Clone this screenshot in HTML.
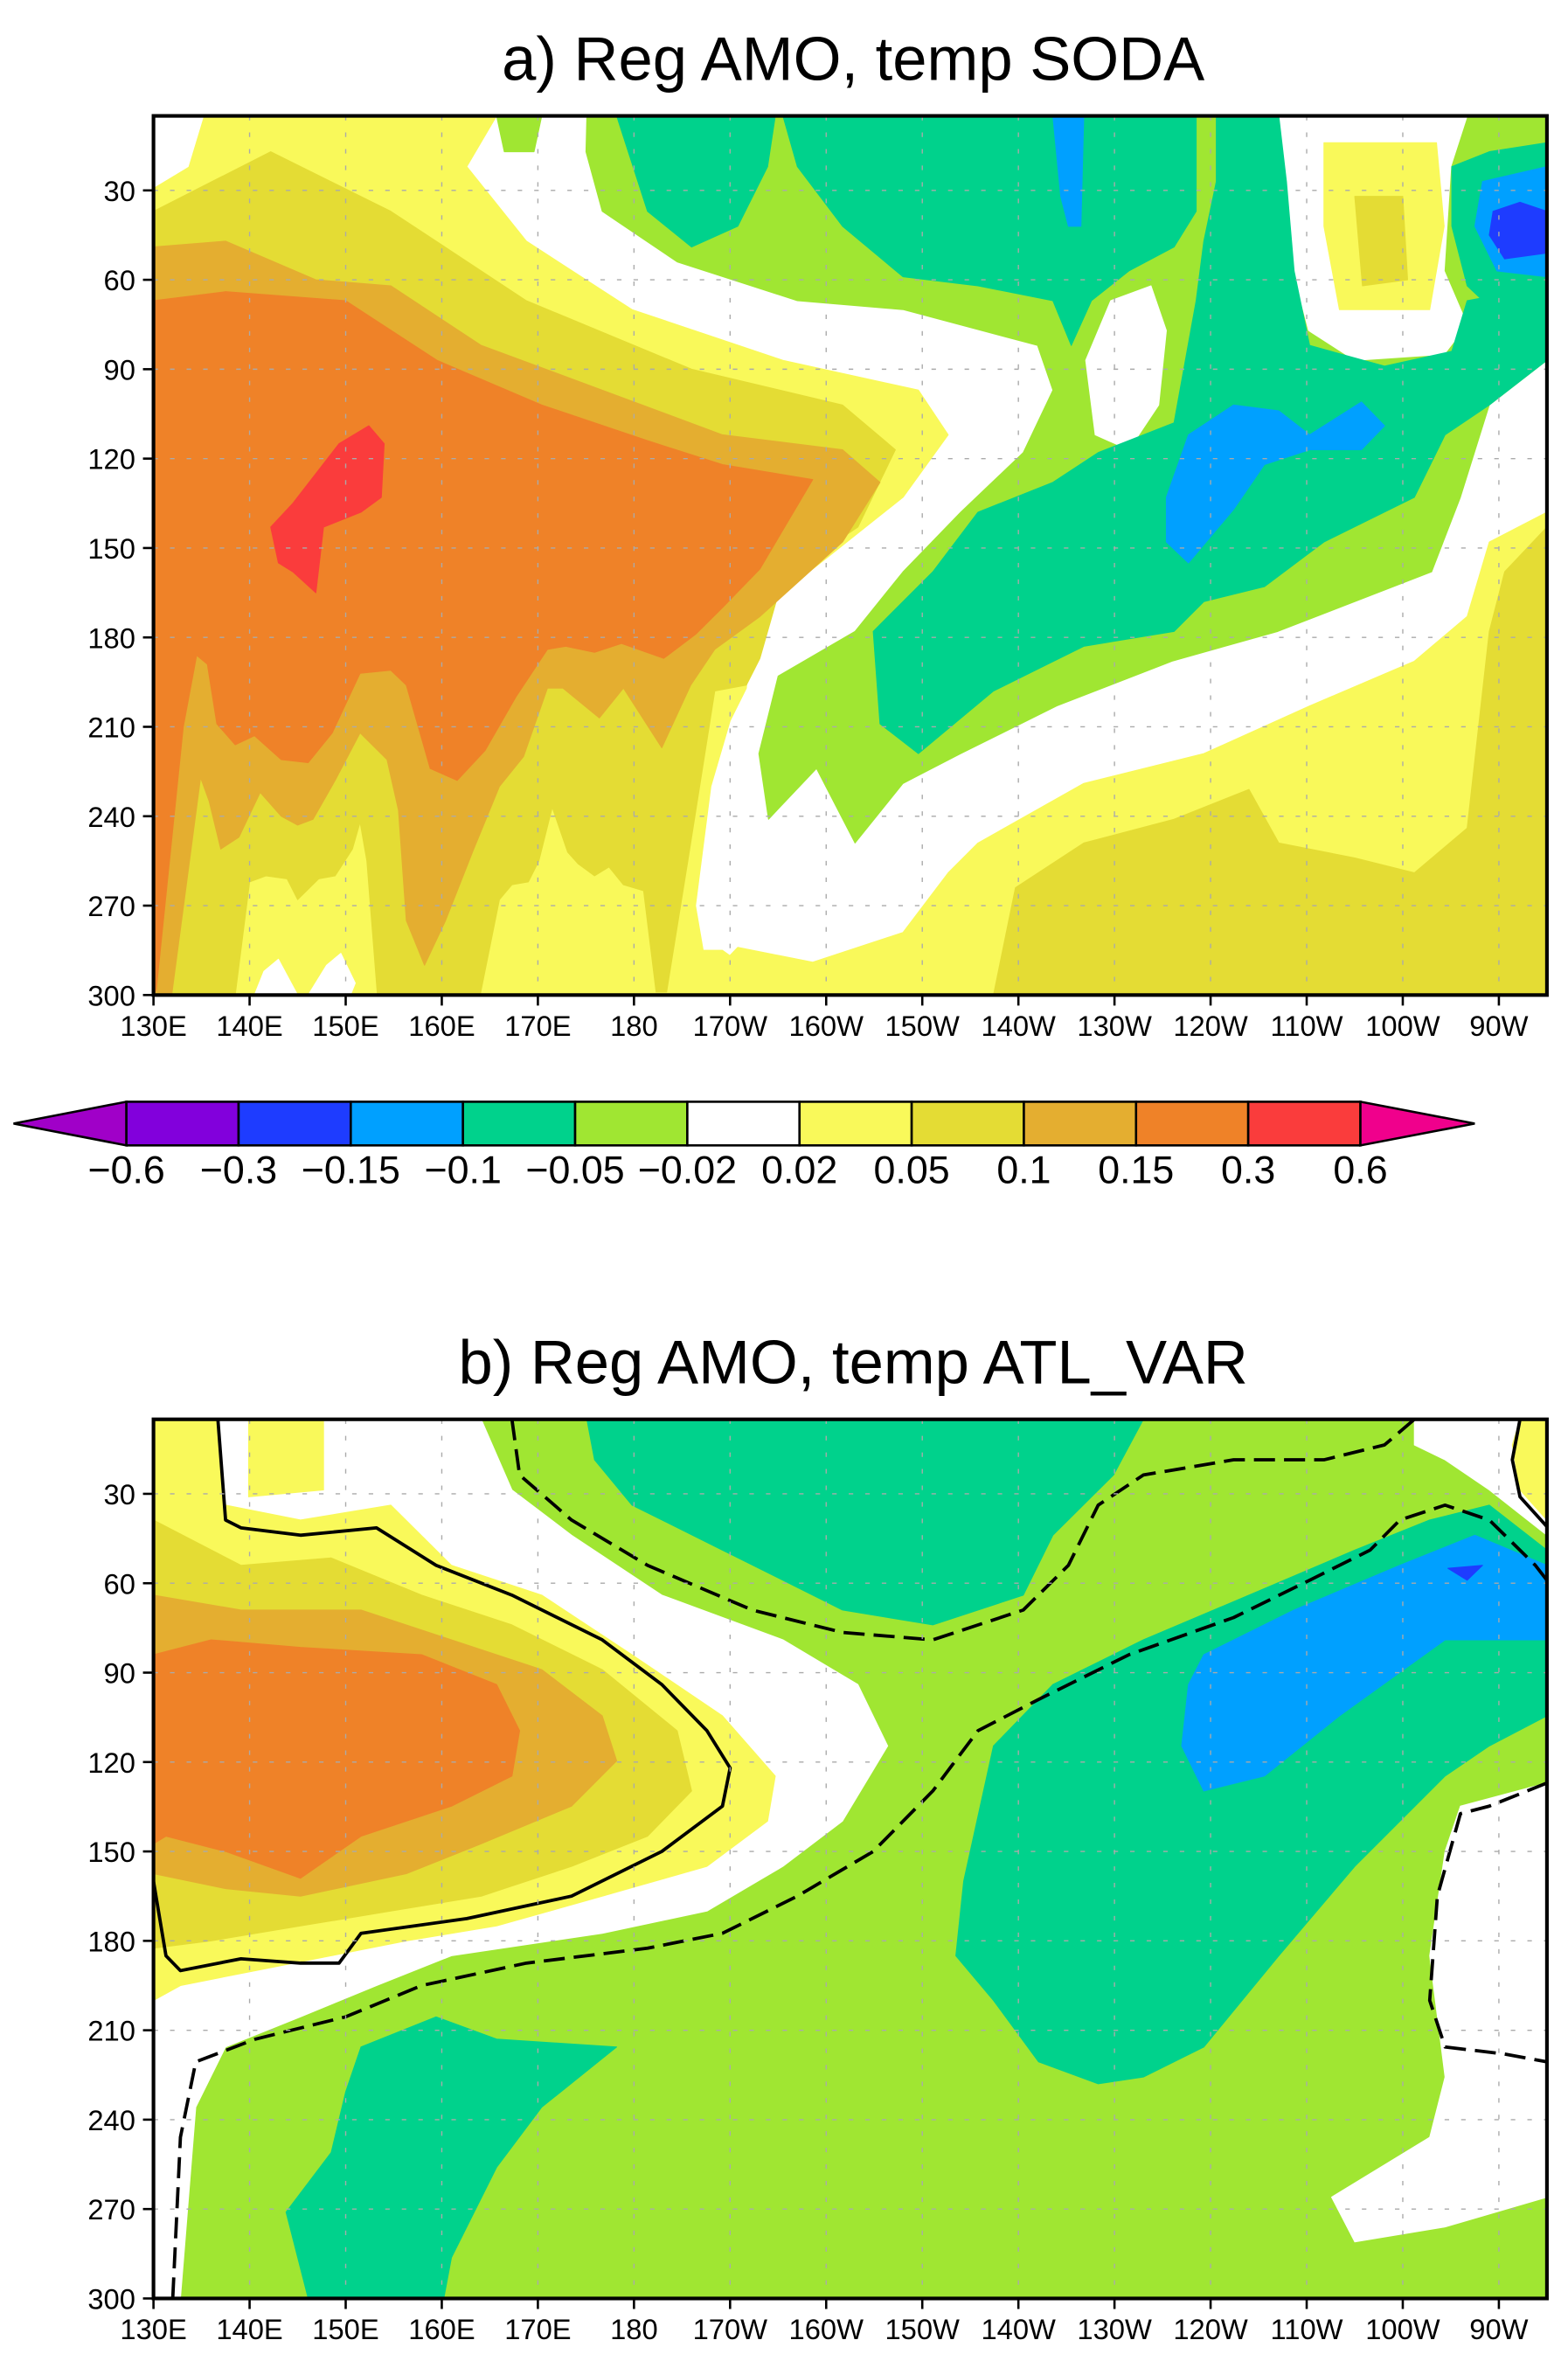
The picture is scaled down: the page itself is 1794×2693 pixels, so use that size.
<!DOCTYPE html>
<html><head><meta charset="utf-8"><style>
html,body{margin:0;padding:0;background:#fff}
svg{display:block}
text{font-family:"Liberation Sans",sans-serif;fill:#000}
</style></head><body>
<svg id="fig" width="1794" height="2693" viewBox="0 0 1042 1564" preserveAspectRatio="none" xmlns="http://www.w3.org/2000/svg">
<text x="567" y="53" font-size="41" text-anchor="middle">a) Reg AMO, temp SODA</text>
<text x="567" y="919" font-size="41" text-anchor="middle">b) Reg AMO, temp ATL_VAR</text>
<g id="pa"></g>
<g id="pb"></g>
<g id="cb"></g>
</svg>
<script>
const NS="http://www.w3.org/2000/svg";
const lonTicks=[130,140,150,160,170,180,190,200,210,220,230,240,250,260,270];
const lonLabels=["130E","140E","150E","160E","170E","180","170W","160W","150W","140W","130W","120W","110W","100W","90W"];
const depthTicks=[30,60,90,120,150,180,210,240,270,300];
const levels=["−0.6","−0.3","−0.15","−0.1","−0.05","−0.02","0.02","0.05","0.1","0.15","0.3","0.6"];
const cbColors=["#8200dc","#1e3cff","#00a0ff","#00d28c","#a0e632","#ffffff","#f9f95a","#e4dc34","#e4ae30","#ef8228","#fa3c3c"];
const C={w:"#ffffff",y:"#f9f95a",dy:"#e4dc34",oy:"#e4ae30",o:"#ef8228",r:"#fa3c3c",g:"#a0e632",t:"#00d28c",lb:"#00a0ff",b:"#1e3cff"};
// contour polygons in [lon (deg E), depth (m)]
const aWhiteTL=[[130,5],[135.2,5],[133.6,22],[130,29]];
const aGreen=[[175.1,5],[275,5],[275,87],[269,102],[266,133],[263,158],[247,178],[236,188],[224,203],[214,219],[208,229],[203,249],[199,224],[194,241],[193,219],[195,193],[203,178],[208,158],[214,138],[220.5,118],[223.6,97],[222,82],[208,70],[197,67],[184.5,54],[176.7,37],[175,17]];
const aGreenBlob=[[165.7,5],[170.4,5],[169.6,17],[166.5,17]];
const aWhiteOval=[[228,112],[227,87],[229.6,67],[233.8,62],[235.4,77],[234.6,102],[231.5,117]];
const aWhiteTR=[[247,5],[266.7,5],[265,22],[264.3,57],[266.7,75],[264.3,85],[255,87],[250.2,77],[248.6,57],[247.8,27]];
const aYellowTR=[[251.8,14],[263.5,14],[264.3,42],[262.8,70],[253.4,70],[251.8,42]];
const aDYellowTR=[[255,32],[260,32],[260.5,60],[255.8,62]];
const aTeal1=[[178.2,5],[194.7,5],[193.9,22],[190.8,42],[186,49],[181.4,37]];
const aTeal2=[[195.5,5],[238.5,5],[238.5,37],[236.2,49],[231.5,57],[227.6,67],[225.5,82],[223.6,67],[215.8,62],[208,59],[201.7,42],[197,22]];
const aTeal3=[[240.6,5],[247.1,5],[247.9,27],[248.7,57],[250.3,82],[258.1,89],[265.1,84],[266.7,67],[275,62],[275,87],[269,102],[264.4,112],[261.2,133],[251.8,148],[245.6,163],[239.3,168],[236.2,178],[226.8,183],[217.4,198],[209.6,219],[205.6,209],[204.9,178],[211.1,158],[215.8,138],[223.6,128],[228.3,118],[236.2,108],[238.5,67],[239.3,47],[240.6,27]];
const aTealTR=[[265.1,22],[269,17],[275,14],[275,67],[269,69],[266.7,62],[265.1,42]];
const aLBlueTR=[[268.3,27],[275,22],[275,59],[269.8,57],[267.5,42]];
const aBlueTR=[[269.4,37],[272.2,34],[275,37],[275,51],[270.6,53],[269,45]];
const aLBlueTop=[[223.6,5],[226.8,5],[226.5,42],[225.2,42],[224.4,32]];
const aLBlueMid=[[235.4,133],[237.7,112],[242.4,102],[247.1,104],[250.3,112],[255.7,101],[258.1,109],[255.7,117],[250.3,117],[245.6,122],[242.4,137],[237.7,155],[235.4,148]];
const aYellowBR=[[186,300],[190.8,284],[198.6,289],[208,279],[212.7,259],[215.8,249],[226.8,229],[239.3,219],[250.3,203],[261.2,188],[266.7,173],[269,148],[275,138],[275,300]];
const aDYellowBR=[[217.4,300],[219.7,264],[226.8,249],[236.2,241],[244,231],[247.1,249],[255,254],[261.2,259],[266.7,244],[269,178],[270.6,158],[275,143],[275,300]];
const aYellowL=[[130,5],[165.7,5],[162.6,22],[168.8,47],[179.8,70],[195.5,87],[209.6,97],[212.7,112],[208,133],[200.2,153],[192.3,173],[191.7,197],[190,208],[188,230],[186.4,270],[187.2,285],[189.2,285],[193.1,294],[193.1,300],[130,300]];
const aWhiteBits1=[[140.5,300],[141.5,292],[143,288],[145,300]];
const aWhiteBits2=[[146.1,300],[148,290],[149.5,286],[151,296],[150.5,300]];
const aDYellowL=[[130,37],[142.2,17],[154.7,37],[168.8,67],[186,90],[201.7,102],[207.2,117],[203.3,143],[195.5,160],[193.1,187],[191.7,196],[188.4,198],[185.6,255],[183.4,299],[182.3,299],[181,265],[178.9,263],[177.4,257],[175.9,260],[174.2,256],[173.1,252],[171.5,237],[170.1,255],[169,262],[167.3,263],[166,268],[164,300],[153.3,300],[152.2,255],[151.5,242],[150.7,251],[148.9,260],[147.2,261],[145,268],[143.9,261],[141.7,260],[140,262],[138.5,300],[130,300]];
const aOYellowL=[[130,49],[137.5,47],[146.9,60],[154.7,62],[164.1,82],[176.7,97],[189.2,112],[201.7,117],[205.6,128],[201.7,148],[193.1,173],[188.4,184],[185.9,196],[182.9,217],[178.9,197],[176.4,207],[172.6,197],[171,197],[168.5,220],[166,230],[163.2,252],[160.4,275],[158.2,290],[156.3,275],[155.5,238],[154.3,221],[151.5,212],[148.9,228],[146.6,241],[145,243],[143.3,240],[141.1,232],[138.9,247],[137,251],[135.8,235],[134.9,227],[131.9,300],[130,300]];
const aOrangeL=[[130,67],[137.5,64],[150,67],[159.5,87],[170.4,102],[181.4,114],[189.2,122],[198.6,127],[193.1,157],[189.2,170],[186.4,179],[183.1,187],[178.7,182],[175.9,185],[172.9,183],[171,184],[167.7,200],[164.5,218],[161.6,228],[158.8,224],[156.3,196],[154.7,191],[151.5,192],[148.6,212],[146.1,222],[143.3,221],[140.5,213],[138.5,216],[136.6,209],[135.6,189],[134.5,186],[133.1,210],[130.3,298],[130,300]];
const aRed=[[142.2,143],[144.5,135],[149.3,115],[152.4,109],[154,115],[153.7,133],[151.6,138],[147.7,143],[146.9,165],[144.5,158],[143,155]];
// panel b
const bWhiteL=[[147.7,5],[164.1,5],[167.3,28.7],[173.5,43.9],[182.9,64],[195.5,79],[203.3,94],[206.4,114.6],[201.7,139.8],[195.5,155],[187.6,170],[176.7,177.5],[161,185],[153.2,195],[145.3,205.5],[137.5,215.6],[134.4,235.8],[132.8,300],[130,300],[130,5]];
const bWhiteTR=[[261.2,5],[275,5],[275,43.9],[269,28.7],[264.4,18.6],[261.2,13.6]];
const bWhiteR=[[266,134.8],[275,127],[275,266],[264.4,276],[255,281],[252.6,266],[262.8,245.9],[264.4,225.7],[262.8,185],[264.4,150]];
const bTeal1=[[175.1,5],[233,5],[229.9,23.7],[223.6,43.9],[220.5,64],[211.1,74],[201.7,69],[189.2,48.9],[179.8,33.8],[175.9,18.6]];
const bTeal2=[[214.3,160],[217.4,114.6],[223.6,94],[233,79],[244,64],[255,48.9],[262.8,38.8],[269,33.8],[275,48.9],[275,104.5],[269,114.6],[264.4,124.7],[255,155],[247.1,185],[239.3,215.6],[233,225.7],[228.3,228],[222.1,220.6],[217.4,200],[213.5,185]];
const bTeal3=[[151.6,215.6],[159.4,205.5],[165.7,213],[178.2,215.6],[170.4,235.8],[165.7,256],[161,286.3],[160.2,300],[146.1,300],[143.8,271],[148.5,251],[150,230.7]];
const bLBlue=[[239.3,84],[248.7,69],[259.7,54],[267.5,43.9],[275,54],[275,79],[264.4,79],[253.4,104.5],[245.6,124.7],[239.3,129.7],[237,114.6],[237.7,94]];
const bBlue=[[264.7,55],[268.3,54],[266.7,59]];
const bYellow=[[130,5],[136.7,5],[137.5,33.8],[145.3,38.8],[154.7,33.8],[161,54],[170.4,64],[179.8,84],[189.2,104.5],[194.7,124.7],[193.9,139.8],[187.6,155],[176.7,165],[165.7,175],[156.3,180],[148.5,185],[140.6,190],[132.8,195],[130,200]];
const bYellowStrip=[[139.9,5],[147.7,5],[147.7,28.7],[139.9,31]];
const bDYellow=[[130,38.8],[139.1,54],[148.5,51.5],[157.9,64],[167.3,74],[176.7,89],[184.5,109.5],[186,129.7],[181.4,144.9],[173.5,155],[164.1,165],[154.7,170],[145.3,175],[136,180],[130,182.5]];
const bOYellow=[[130,64],[139.1,69],[151.6,69],[161,79],[170.4,89],[176.7,104.5],[178.2,119.6],[173.5,134.8],[164.1,147.4],[156.3,157.5],[145.3,165],[137.5,162.5],[130,157.5]];
const bOrange=[[130,84],[136,79],[145.3,81.5],[157.9,84],[165.7,94],[168.1,109.5],[167.3,124.7],[161,134.8],[151.6,144.9],[145.3,159],[137.5,150],[131.3,144.9],[130,147.4]];
const bYellowTR=[[272.2,5],[275,5],[275,38.8],[272.2,28.7],[271.4,13.6]];
const bSolid1=[[136.7,5],[137.5,38.8],[139.1,41.4],[145.3,43.9],[153.2,41.4],[159.4,54],[167.3,64],[176.7,79],[182.9,94],[187.6,109.5],[190,122],[189.2,134.8],[182.9,150],[173.5,165],[162.6,172.5],[151.6,177.5],[149.3,187.5],[145.3,187.5],[139.1,186],[132.8,190],[131.3,185],[130,160]];
const bSolid2=[[272.2,5],[271.4,18.6],[272.2,31],[275,41]];
const bDash1=[[132,300],[132.8,245.9],[134.4,220.6],[140.6,213],[150,205.5],[157.9,195],[168.8,187.5],[181.4,182.5],[189.2,177.5],[197,165],[204.9,150],[211.1,129.7],[215.8,109.5],[222.1,99],[231.5,84],[242.4,71.5],[250.3,59],[256.6,48.9],[259.7,38.8],[264.4,33.8],[269,38.8],[273.8,54],[275,59]];
const bDash2=[[167.3,5],[168.1,23.7],[173.5,38.8],[181.4,54],[192.3,69],[201.7,76.5],[211.1,79],[220.5,69],[225.2,54],[228.3,33.8],[233,23.7],[242.4,18.6],[251.8,18.6],[258.1,13.6],[261.2,5]];
const bDash3=[[275,127],[269,134.8],[266,137.3],[263.6,165],[262.8,200],[264.4,215.6],[270.6,218],[275,220.6]];

function mk(tag,attrs,parent){const e=document.createElementNS(NS,tag);for(const k in attrs)e.setAttribute(k,attrs[k]);parent.appendChild(e);return e;}
function makePanel(g,top,layers,lines,clipId){
  const L=102,R=1028,T=top,B=top+(300-5)*1.98;
  const x=lon=>L+(lon-130)*(R-L)/145;
  const y=d=>T+(d-5)*(B-T)/295;
  const defs=mk('defs',{},g);const cp=mk('clipPath',{id:clipId},defs);mk('rect',{x:L,y:T,width:R-L,height:B-T},cp);
  const body=mk('g',{'clip-path':`url(#${clipId})`},g);
  const bg=mk('rect',{x:L,y:T,width:R-L,height:B-T,fill:layers.bg},body);
  
  
  layers.list.forEach(([name,pts,col])=>{
    const p=mk('polygon',{points:pts.map(q=>x(q[0]).toFixed(1)+','+y(q[1]).toFixed(1)).join(' '),fill:col,stroke:col,'stroke-width':0.6,'stroke-linejoin':'round'},body);
    
    
  });
  lines.forEach(([name,pts,dash])=>{
    const p=mk('polyline',{points:pts.map(q=>x(q[0]).toFixed(1)+','+y(q[1]).toFixed(1)).join(' '),fill:'none',stroke:'#000','stroke-width':2.2,'stroke-linejoin':'round','stroke-dasharray':dash?'14 6':'none'},body);
    
    
  });
  lonTicks.forEach(v=>{if(v>130)mk('line',{x1:x(v),x2:x(v),y1:T,y2:B,stroke:'#aaa','stroke-width':0.8,'stroke-dasharray':'3 8'},g);});
  depthTicks.forEach(v=>{if(v<300)mk('line',{x1:L,x2:R,y1:y(v),y2:y(v),stroke:'#aaa','stroke-width':0.8,'stroke-dasharray':'3 8'},g);});
  const fr=mk('rect',{x:L,y:T,width:R-L,height:B-T,fill:'none',stroke:'#000','stroke-width':2.4},g);
  
  
  lonTicks.forEach((v,i)=>{
    mk('line',{x1:x(v),x2:x(v),y1:B,y2:B+7,stroke:'#000','stroke-width':1.5},g);
    const t=mk('text',{x:x(v),y:B+27,'font-size':19,'text-anchor':'middle'},g);t.textContent=lonLabels[i];
    
    
  });
  depthTicks.forEach(v=>{
    mk('line',{x1:L-7,x2:L,y1:y(v),y2:y(v),stroke:'#000','stroke-width':1.5},g);
    const t=mk('text',{x:L-12,y:y(v)+7,'font-size':19,'text-anchor':'end'},g);t.textContent=v;
    
    
  });
}
makePanel(document.getElementById('pa'),77,{bg:C.w,list:[
 ['green-region',aGreen,C.g],['green-blob',aGreenBlob,C.g],['white-oval',aWhiteOval,C.w],['white-top-right',aWhiteTR,C.w],
 ['yellow-top-right',aYellowTR,C.y],['darkyellow-top-right',aDYellowTR,C.dy],
 ['teal-1',aTeal1,C.t],['teal-2',aTeal2,C.t],['teal-3',aTeal3,C.t],['teal-top-right',aTealTR,C.t],
 ['lightblue-top-right',aLBlueTR,C.lb],['blue-top-right',aBlueTR,C.b],['lightblue-top',aLBlueTop,C.lb],['lightblue-mid',aLBlueMid,C.lb],
 ['yellow-bottom-right',aYellowBR,C.y],['darkyellow-bottom-right',aDYellowBR,C.dy],
 ['yellow-left',aYellowL,C.y],['white-top-left',aWhiteTL,C.w],['white-bits-1',aWhiteBits1,C.w],['white-bits-2',aWhiteBits2,C.w],
 ['darkyellow-left',aDYellowL,C.dy],['orangeyellow-left',aOYellowL,C.oy],['orange-left',aOrangeL,C.o],['red-core',aRed,C.r]
]},[],'clipA');
makePanel(document.getElementById('pb'),943,{bg:C.g,list:[
 ['white-left',bWhiteL,C.w],['white-top-right',bWhiteTR,C.w],['white-right',bWhiteR,C.w],
 ['teal-top',bTeal1,C.t],['teal-right',bTeal2,C.t],['teal-bottom-left',bTeal3,C.t],['lightblue-right',bLBlue,C.lb],['blue-spot',bBlue,C.b],
 ['yellow-left',bYellow,C.y],['yellow-strip',bYellowStrip,C.y],['darkyellow-left',bDYellow,C.dy],['orangeyellow-left',bOYellow,C.oy],['orange-left',bOrange,C.o],['yellow-top-right',bYellowTR,C.y]
]},[['contour-solid',bSolid1,false],['contour-solid-tr',bSolid2,false],['contour-dashed-1',bDash1,true],['contour-dashed-2',bDash2,true],['contour-dashed-3',bDash3,true]],'clipB');
(function(){
  const g=document.getElementById('cb');const x0=84,w=74.55,yT=732,yB=761;
  const lt=mk('polygon',{points:`${x0},${yT} ${x0},${yB} 9,${(yT+yB)/2}`,fill:'#a000c8',stroke:'#000','stroke-width':1.5},g);
  
  
  cbColors.forEach((c,i)=>{
    const r=mk('rect',{x:x0+i*w,y:yT,width:w,height:yB-yT,fill:c,stroke:'#000','stroke-width':1.5},g);
    
    
  });
  const xe=x0+cbColors.length*w;
  const rt=mk('polygon',{points:`${xe},${yT} ${xe},${yB} 980,${(yT+yB)/2}`,fill:'#f0008c',stroke:'#000','stroke-width':1.5},g);
  
  
  levels.forEach((s,i)=>{
    const t=mk('text',{x:x0+i*w,y:786,'font-size':26,'text-anchor':'middle'},g);t.textContent=s;
    
    
  });
})();
</script>
</body></html>
